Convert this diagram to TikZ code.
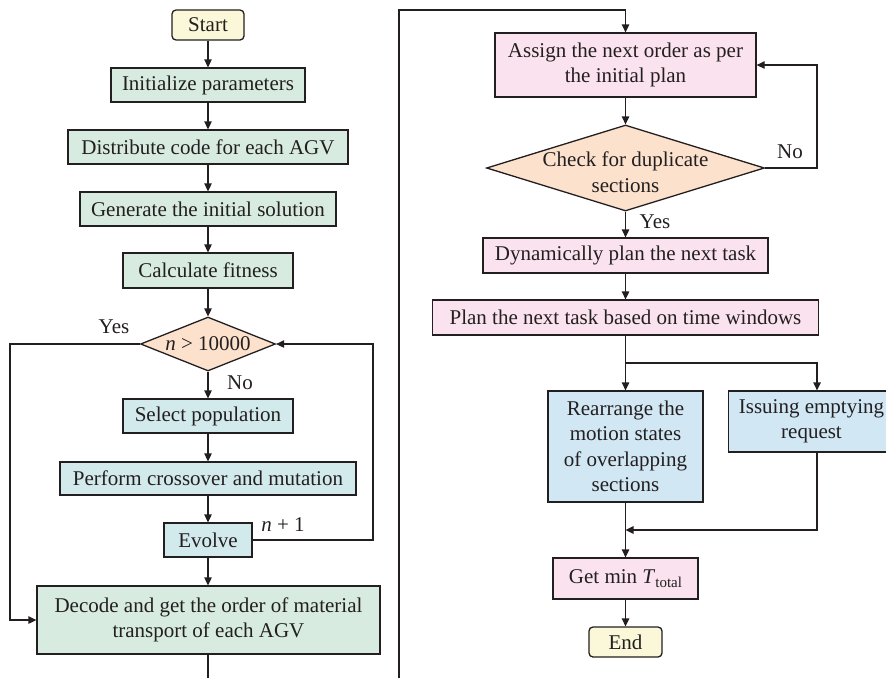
\documentclass[tikz,border=0pt]{standalone}
\usepackage{fontspec}
\setmainfont{Liberation Serif}
\usetikzlibrary{arrows.meta,shapes.geometric}
\definecolor{ink}{HTML}{231F20}
\definecolor{cyel}{HTML}{FAF8D8}
\definecolor{cgreen}{HTML}{D7EBE0}
\definecolor{cteal}{HTML}{D3EAEC}
\definecolor{cpeach}{HTML}{FCE1CC}
\definecolor{cpink}{HTML}{FAE3EE}
\definecolor{cblue}{HTML}{D1E7F4}
\tikzset{
  every node/.style={font=\fontsize{21}{25.5}\selectfont, text=ink},
  box/.style={draw=ink, line width=1.3pt, rectangle, inner sep=0pt, align=center},
  term/.style={box, rounded corners=4pt, fill=cyel},
  gbox/.style={box, fill=cgreen},
  tbox/.style={box, fill=cteal},
  pbox/.style={box, fill=cpink},
  bbox/.style={box, fill=cblue},
  dia/.style={draw=ink, line width=1.3pt, diamond, fill=cpeach, inner sep=0pt},
  conn/.style={draw=ink, line width=1.3pt},
  arr/.style={conn, -{Triangle[length=8pt,width=7.5pt]}},
  lbl/.style={inner sep=0pt}
}
\begin{document}
\begin{tikzpicture}[x=1pt,y=-1pt]
\useasboundingbox (0,0) rectangle (886,678);
% left column
\node[term, minimum width=72, minimum height=30] (start) at (208,25) {Start};
\node[gbox, minimum width=194, minimum height=34] (init) at (208,85) {Initialize parameters};
\node[gbox, minimum width=280, minimum height=34] (dist) at (208,147) {Distribute code for each AGV};
\node[gbox, minimum width=256, minimum height=34] (gen) at (208,209) {Generate the initial solution};
\node[gbox, minimum width=170, minimum height=35] (calc) at (208,270.5) {Calculate fitness};
\node[dia, minimum width=135, minimum height=54] (d1) at (208,344) {};
\node[lbl] (d1t) at (d1.center) {\textit{n} > 10000};
\node[tbox, minimum width=170, minimum height=34] (sel) at (208,416) {Select population};
\node[tbox, minimum width=296, minimum height=33] (perf) at (208,478.5) {Perform crossover and mutation};
\node[tbox, minimum width=88, minimum height=34] (evol) at (208,540) {Evolve};
\node[gbox, minimum width=343, minimum height=68] (dec) at (208.5,620) {Decode and get the order of material\\transport of each AGV};
% right column
\node[pbox, minimum width=261, minimum height=64] (asg) at (625.5,65) {Assign the next order as per\\the initial plan};
\node[dia, minimum width=278, minimum height=86] (d2) at (625.5,168) {};
\node[lbl, align=center] (d2t) at ([yshift=-4pt]d2.center) {Check for duplicate\\sections};
\node[pbox, minimum width=285, minimum height=35] (dyn) at (625.5,255.5) {Dynamically plan the next task};
\node[pbox, minimum width=386, minimum height=35] (plan) at (625.5,317.5) {Plan the next task based on time windows};
\node[bbox, minimum width=155, minimum height=111] (rear) at (625.5,446.5) {Rearrange the\\motion states\\of overlapping\\sections};
\node[bbox, minimum width=166, minimum height=61] (iss) at (811.5,421.5) {Issuing emptying\\request};
\node[pbox, minimum width=145, minimum height=41] (gmin) at (625.5,578.5) {Get min \textit{T}\raisebox{-0.35ex}{\fontsize{15}{15}\selectfont total}};
\node[term, minimum width=73, minimum height=30] (end) at (625.5,642) {End};
% coordinates
\coordinate (decb) at (208.5,678);
\coordinate (linkb) at (399,678);
\coordinate (linkt) at (399,10);
\coordinate (asgt) at (asg.north |- linkt);
\coordinate (evr) at (373,540);
\coordinate (d1r) at (373,344);
\coordinate (yl) at (10,344);
\coordinate (yb) at (10,620);
\coordinate (nr) at (817,168);
\coordinate (nt) at (817,65);
\coordinate (sy) at (0,363);
\coordinate (split) at (plan.south |- sy);
\coordinate (splitr) at (817,363);
\coordinate (issn) at (splitr |- iss.north);
\coordinate (isss) at (splitr |- iss.south);
\coordinate (mr) at (817,530);
\coordinate (ml) at (rear.south |- mr);
% left connectors
\draw[arr] (start) -- (init);
\draw[arr] (init) -- (dist);
\draw[arr] (dist) -- (gen);
\draw[arr] (gen) -- (calc);
\draw[arr] (calc) -- (d1.north);
\draw[arr] (d1.south) -- (sel);
\draw[arr] (sel) -- (perf);
\draw[arr] (perf) -- (evol);
\draw[arr] (evol) -- (evol |- dec.north);
\draw[arr] (evol.east) -- (evr) -- (d1r) -- (d1.east);
\draw[arr] (d1.west) -- (yl) -- (yb) -- (dec.west);
\draw[conn] (evol |- dec.south) -- (evol |- decb);
% right connectors
\draw[arr] (linkb) -- (linkt) -- (asgt) -- (asg.north);
\draw[arr] (asg) -- (d2.north);
\draw[arr] (d2.south) -- (dyn);
\draw[arr] (d2.east) -- (nr) -- (nt) -- (asg.east);
\draw[arr] (dyn) -- (plan);
\draw[conn] (plan.south) -- (split);
\draw[arr] (split) -- (rear.north);
\draw[arr] (split) -- (splitr) -- (issn);
\draw[arr] (isss) -- (mr) -- (ml);
\draw[arr] (rear) -- (gmin);
\draw[arr] (gmin) -- (end);
% labels
\node[lbl] (yes1) at (114,327) {Yes};
\node[lbl] (no1) at (240,383) {No};
\node[lbl] (np1) at (283,525) {\textit{n} + 1};
\node[lbl] (no2) at (790,152) {No};
\node[lbl] (yes2) at (655,222) {Yes};
\end{tikzpicture}
\end{document}
